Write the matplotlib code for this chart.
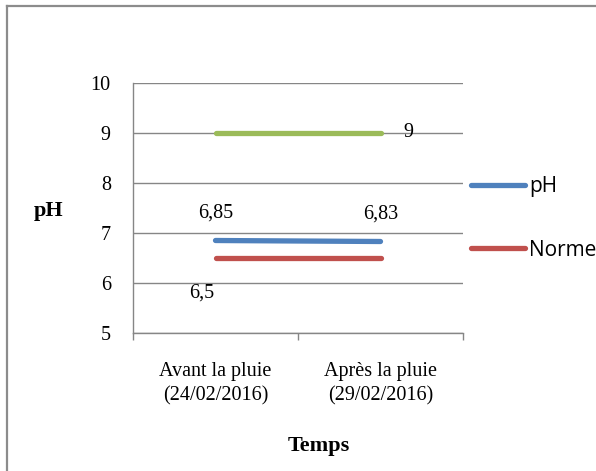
import matplotlib
matplotlib.use("Agg")
import matplotlib.pyplot as plt
from matplotlib.lines import Line2D

categories = ["Avant la pluie\n(24/02/2016)", "Après la pluie\n(29/02/2016)"]
ph_values = [6.85, 6.83]
norme_min = [6.5, 6.5]
norme_max = [9, 9]
ph_labels = ["6,85", "6,83"]
norme_min_label = "6,5"
norme_max_label = "9"
yticks = [5, 6, 7, 8, 9, 10]

BLUE = "#4F81BD"
RED = "#C0504D"
GREEN = "#9BBB59"
GRID = "#868686"

plt.rcParams['font.family'] = ['Liberation Serif', 'DejaVu Serif']

W, H = 596, 471
fig = plt.figure(figsize=(W / 100, H / 100), dpi=100)

def fx(px):
    return px / W

def fy(py):
    return 1 - py / H

ax = fig.add_axes([fx(133), fy(333), fx(463) - fx(133), fy(83) - fy(333)])

x = list(range(len(categories)))
lw = 3.8
ax.plot(x, norme_max, color=GREEN, lw=lw, solid_capstyle='round', zorder=3)
ax.plot(x, ph_values, color=BLUE, lw=lw, solid_capstyle='round', zorder=3)
ax.plot(x, norme_min, color=RED, lw=lw, solid_capstyle='round', zorder=3)

fs = 14.5
# data labels
for xi, v, lab in zip(x, ph_values, ph_labels):
    ax.annotate(lab, (xi, v), xytext=(0, 20), textcoords='offset points',
                ha='center', va='center', fontsize=fs)
ax.annotate(norme_min_label, (x[0], norme_min[0]), xytext=(-10, -25),
            textcoords='offset points', ha='center', va='center', fontsize=fs)
ax.annotate(norme_max_label, (x[-1], norme_max[-1]), xytext=(20, 0),
            textcoords='offset points', ha='center', va='center', fontsize=fs)

ax.set_xlim(-0.5, len(categories) - 0.5)
ax.set_ylim(5, 10)
ax.set_yticks(yticks)
ax.set_yticklabels([str(t) for t in yticks])
ax.grid(axis='y', color=GRID, lw=1.0)
ax.set_axisbelow(True)

ax.set_xticks(x)
ax.set_xticklabels(categories, fontsize=fs, linespacing=1.35)
ax.set_xticks([i - 0.5 for i in range(len(categories) + 1)], minor=True)
ax.tick_params(axis='x', which='major', length=0, pad=21)
ax.tick_params(axis='x', which='minor', length=5, width=1.0, color=GRID, direction='out')
ax.tick_params(axis='y', length=0, pad=16, labelsize=fs)

for s in ['top', 'right']:
    ax.spines[s].set_visible(False)
for s in ['left', 'bottom']:
    ax.spines[s].set_color(GRID)
    ax.spines[s].set_linewidth(1.0)

fig.text(fx(48.5), fy(211), "pH", fontsize=16, fontweight='bold', ha='center', va='center')
fig.text(fx(319), fy(446), "Temps", fontsize=16, fontweight='bold', ha='center', va='center')

handles = [Line2D([], [], color=BLUE, lw=lw, solid_capstyle='round'),
           Line2D([], [], color=RED, lw=lw, solid_capstyle='round')]
fig.legend(handles, ["pH", "Norme"], loc='upper left',
           bbox_to_anchor=(fx(471), fy(176)), frameon=False,
           prop={'family': 'Open Sans', 'size': 15},
           handlelength=2.6, handletextpad=0.2, labelspacing=2.05,
           borderpad=0, borderaxespad=0)

# outer chart border
fig.add_artist(Line2D([fx(7), fx(7)], [0, fy(6)], color="#8C8C8C", lw=1.6))
fig.add_artist(Line2D([fx(7), 1], [fy(6), fy(6)], color="#8C8C8C", lw=1.6))

fig.savefig("out.png", dpi=100)
